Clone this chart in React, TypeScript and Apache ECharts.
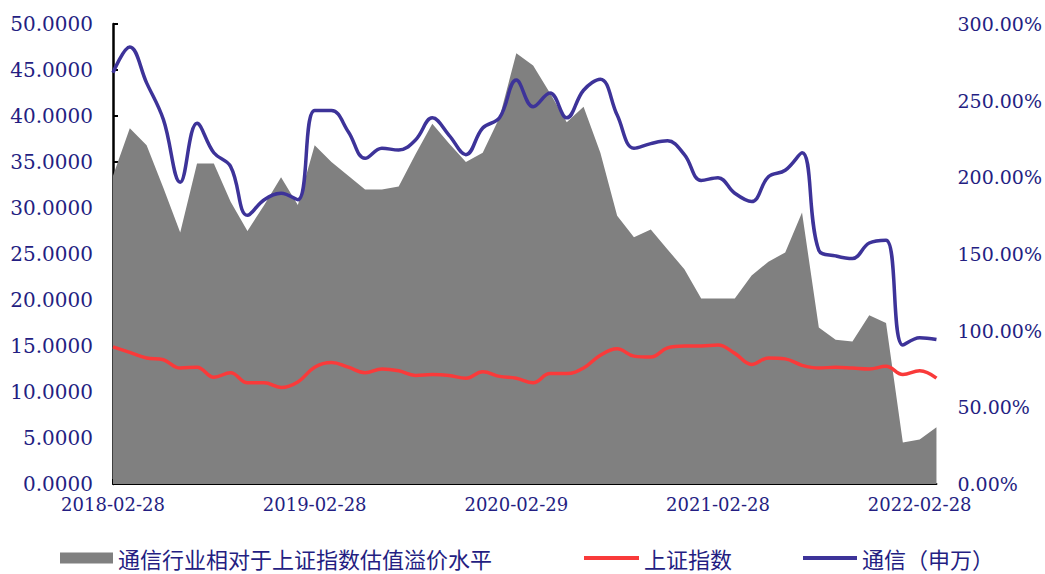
import React, { useEffect, useRef } from "react";
import * as echarts from "echarts";

const dates = [
  "2018-02-28","2018-03-31","2018-04-30","2018-05-31","2018-06-30","2018-07-31","2018-08-31","2018-09-30","2018-10-31","2018-11-30","2018-12-31",
  "2019-01-31","2019-02-28","2019-03-31","2019-04-30","2019-05-31","2019-06-30","2019-07-31","2019-08-31","2019-09-30","2019-10-31","2019-11-30","2019-12-31",
  "2020-01-31","2020-02-29","2020-03-31","2020-04-30","2020-05-31","2020-06-30","2020-07-31","2020-08-31","2020-09-30","2020-10-31","2020-11-30","2020-12-31",
  "2021-01-31","2021-02-28","2021-03-31","2021-04-30","2021-05-31","2021-06-30","2021-07-31","2021-08-31","2021-09-30","2021-10-31","2021-11-30","2021-12-31",
  "2022-01-31","2022-02-28","2022-03-31",
];

// 通信行业相对于上证指数估值溢价水平 (%)
const premium = [
  201, 232, 221, 193, 164, 209, 209, 184, 165, 182, 200, 182,
  221, 210, 201, 192, 192, 194, 215, 235, 222, 210, 216, 239,
  281, 273, 255, 236, 246, 216, 175, 161, 166, 153, 140, 121,
  121, 121, 136, 145, 151, 177, 102, 94, 93, 110, 105, 27,
  29, 37,
];

// 上证指数 PE
const shIndex = [
  14.9, 14.3, 13.7, 13.5, 12.6, 12.7, 11.6, 12.1, 11.0, 11.0, 10.5, 11.1,
  12.7, 13.2, 12.7, 12.1, 12.5, 12.3, 11.8, 11.9, 11.8, 11.5, 12.2, 11.7,
  11.5, 11.0, 12.0, 12.0, 12.6, 14.0, 14.7, 13.9, 13.8, 14.8, 15.0, 15.0,
  15.1, 14.2, 13.0, 13.7, 13.6, 12.9, 12.6, 12.7, 12.6, 12.5, 12.8, 11.9,
  12.3, 11.5,
];

// 通信（申万）PE
const telecom = [
  44.7, 47.5, 43.6, 39.6, 32.8, 39.2, 36.0, 34.5, 29.2, 30.9, 31.6, 30.9,
  40.6, 40.6, 38.3, 35.4, 36.5, 36.3, 37.4, 39.8, 37.9, 35.8, 38.7, 39.8,
  43.9, 41.0, 42.5, 39.8, 42.8, 44.0, 40.1, 36.5, 37.0, 37.3, 35.8, 33.0,
  33.3, 31.6, 30.7, 33.4, 34.1, 36.0, 25.4, 24.8, 24.5, 26.2, 26.5, 15.1,
  15.9, 15.7,
];

const seriesNames = ["通信行业相对于上证指数估值溢价水平", "上证指数", "通信（申万）"];

const NAVY = "#241e82";
const SERIF = "'DejaVu Serif', 'Liberation Serif', serif";
const CJK = "'Noto Sans CJK SC', sans-serif";

export default function App() {
  const ref = useRef<HTMLDivElement>(null);
  useEffect(() => {
    document.body.style.margin = "0";
    const chart = echarts.init(ref.current!, null, { renderer: "svg" });
    const legendText = { color: NAVY, fontFamily: CJK, fontSize: 22, lineHeight: 22 };
    chart.setOption({
      animation: false,
      backgroundColor: "#ffffff",
      grid: { left: 113, right: 105, top: 24, bottom: 90 },
      legend: [
        {
          data: [{ name: seriesNames[0], icon: "rect" }],
          left: 60, top: 547, padding: 0, itemWidth: 53, itemHeight: 11, itemGap: 4,
          textStyle: legendText,
        },
        {
          data: [{ name: seriesNames[1], icon: "rect" }],
          left: 584, top: 547, padding: 0, itemWidth: 55, itemHeight: 4,
          textStyle: legendText,
        },
        {
          data: [{ name: seriesNames[2], icon: "rect" }],
          left: 803, top: 547, padding: 0, itemWidth: 54, itemHeight: 4,
          textStyle: legendText,
        },
      ],
      xAxis: {
        type: "category",
        data: dates,
        boundaryGap: false,
        axisLine: { show: true, lineStyle: { color: "#000", width: 2 } },
        axisTick: { show: true, inside: true, interval: 11, length: 5, lineStyle: { color: "#000", width: 2 } },
        axisLabel: { interval: 11, color: NAVY, fontFamily: SERIF, fontSize: 18, margin: 11 },
        splitLine: { show: false },
      },
      yAxis: [
        {
          type: "value",
          min: 0, max: 50, interval: 5,
          axisLine: { show: true, lineStyle: { color: "#000", width: 2.5 } },
          axisTick: { show: true, inside: true, length: 5, lineStyle: { color: "#000", width: 2 } },
          axisLabel: { color: NAVY, fontFamily: SERIF, fontSize: 20, margin: 20, formatter: (v: number) => v.toFixed(4) },
          splitLine: { show: false },
        },
        {
          type: "value",
          min: 0, max: 300, interval: 50,
          axisLine: { show: false },
          axisTick: { show: false },
          axisLabel: { color: NAVY, fontFamily: SERIF, fontSize: 19, margin: 21, formatter: (v: number) => v.toFixed(2) + "%" },
          splitLine: { show: false },
        },
      ],
      series: [
        {
          name: seriesNames[0],
          type: "line",
          yAxisIndex: 1,
          data: premium,
          symbol: "none",
          itemStyle: { color: "#808080" },
          lineStyle: { width: 0 },
          areaStyle: { color: "#808080", opacity: 1 },
          z: 1,
        },
        {
          name: seriesNames[1],
          type: "line",
          yAxisIndex: 0,
          data: shIndex,
          symbol: "none",
          smooth: 0.4,
          itemStyle: { color: "#f93a3a" },
          lineStyle: { color: "#f93a3a", width: 3.5 },
          z: 3,
        },
        {
          name: seriesNames[2],
          type: "line",
          yAxisIndex: 0,
          data: telecom,
          symbol: "none",
          smooth: 0.4,
          itemStyle: { color: "#3d3399" },
          lineStyle: { color: "#3d3399", width: 3.5 },
          z: 4,
        },
      ],
    });
    return () => chart.dispose();
  }, []);
  return <div ref={ref} style={{ width: 1045, height: 574 }} />;
}
